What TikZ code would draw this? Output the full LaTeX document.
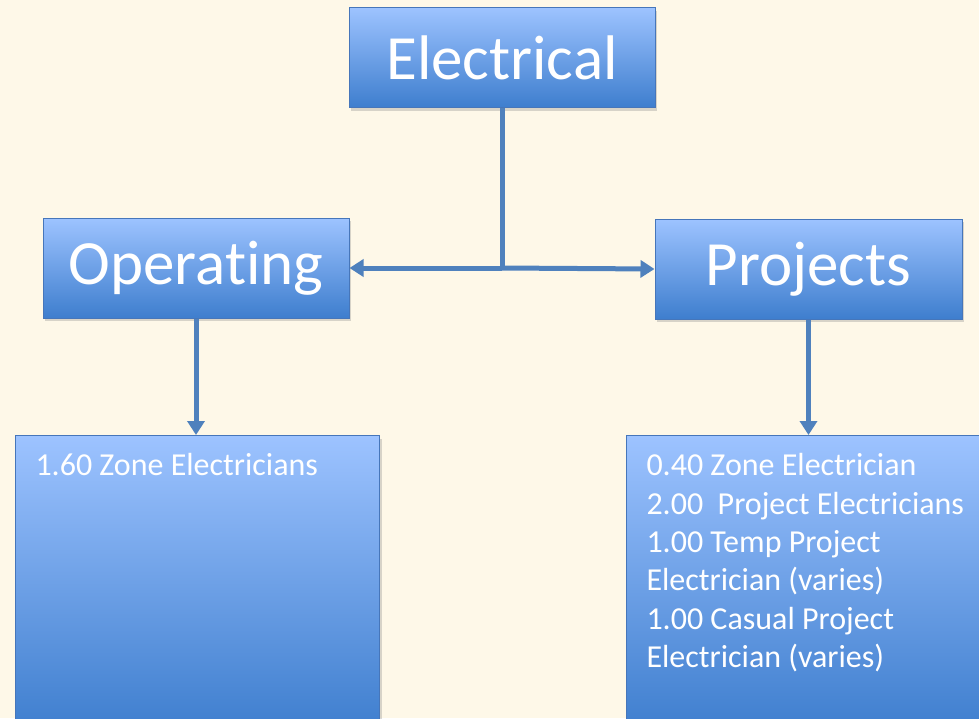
\documentclass[tikz,border=0pt]{standalone}
\usepackage{fontspec}
\setmainfont{Carlito}[Ligatures=NoCommon]
\definecolor{paper}{RGB}{254, 248, 232}
\definecolor{boxtop}{RGB}{157, 195, 255}
\definecolor{boxbottom}{RGB}{62, 126, 206}
\definecolor{boxedge}{RGB}{70, 118, 186}
\definecolor{linkblue}{RGB}{79, 129, 189}
\usetikzlibrary{positioning, arrows.meta, shadows, calc}

\begin{document}
\begin{tikzpicture}[x=1pt, y=-1pt,
  unitbox/.style={draw=boxedge, line width=1pt, top color=boxtop, bottom color=boxbottom, text=white, minimum width=306pt, minimum height=100pt, inner sep=0pt, font=\fontsize{63}{70}\selectfont, drop shadow={opacity=0.3, shadow xshift=2pt, shadow yshift=-3pt}},
  listbox/.style={unitbox, anchor=north west, minimum width=364pt, inner xsep=20pt, inner ysep=18pt, font=\fontsize{32}{38.4}\selectfont},
  link/.style={draw=linkblue, line width=5pt, -{Triangle[width=17pt, length=14pt]}}]
\fill[paper] (0,0) rectangle (979,718);
\clip (0,0) rectangle (979,718);
\node[unitbox] (elec) at (502,57.5) {Electrical};
\node[unitbox] (oper) at (196,268) {Operating};
\node[unitbox, minimum width=307pt] (proj) at (808.5,269) {Projects};
\node[listbox] (zonelist) at (15,435) {\parbox[b][260pt][t]{324pt}{\raggedright 1.60 Zone Electricians}};
\node[listbox] (projlist) at (626,435) {\parbox[b][260pt][t]{324pt}{\raggedright 0.40 Zone Electrician\\ 2.00~ Project Electricians\\ 1.00 Temp Project\\ Electrician (varies)\\ 1.00 Casual Project\\ Electrician (varies)}};
\coordinate (hub) at (elec.south |- oper.east);
\draw[linkblue, line width=5pt] (elec.south) -- (hub);
\draw[link] (hub) -- (oper.east);
\draw[link] (hub) -- (proj.west);
\draw[link] (oper.south) -- (oper.south |- zonelist.north);
\draw[link] (proj.south) -- (proj.south |- projlist.north);
\end{tikzpicture}
\end{document}
